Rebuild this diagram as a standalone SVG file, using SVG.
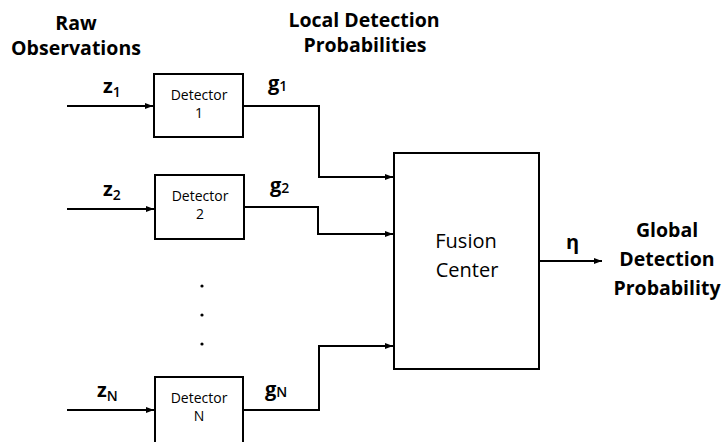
<svg xmlns="http://www.w3.org/2000/svg" width="723" height="442" viewBox="0 0 723 442">
<style>
.box{fill:#fff;stroke:#000;stroke-width:2}
.wire{fill:none;stroke:#000;stroke-width:2}
.hd{font-family:"Open Sans","Liberation Sans",sans-serif;font-weight:bold;font-size:19.5px;fill:#000;text-anchor:middle}
.det{font-family:"Open Sans","Liberation Sans",sans-serif;font-size:14px;fill:#000;text-anchor:middle}
.fc{font-family:"Open Sans","Liberation Sans",sans-serif;font-size:20px;fill:#000;text-anchor:middle}
.var{font-family:"Open Sans","Liberation Sans",sans-serif;font-weight:bold;font-size:20px;fill:#000}
.sub{font-size:14px;font-weight:600}
</style>
<defs>
<marker id="arr" viewBox="0 0 8 6" refX="8" refY="3" markerWidth="8" markerHeight="6" markerUnits="userSpaceOnUse" orient="auto">
<path d="M0,0 L8,3 L0,6 Z" fill="#000"/>
</marker>
</defs>
<g id="labels">
<text class="hd" x="76" y="30">Raw<tspan x="76" dy="25">Observations</tspan></text>
<text class="hd" x="364" y="27">Local Detection<tspan x="365" dy="25">Probabilities</tspan></text>
<text class="var" x="103" y="93">z<tspan class="sub" dy="4">1</tspan></text>
<text class="var" x="103" y="196">z<tspan class="sub" dy="4">2</tspan></text>
<text class="var" x="97" y="397">z<tspan class="sub" dy="4">N</tspan></text>
<text class="var" x="268" y="90">g<tspan class="sub" dy="1">1</tspan></text>
<text class="var" x="270" y="192">g<tspan class="sub" dy="1">2</tspan></text>
<text class="var" x="265" y="396">g<tspan class="sub" dy="1">N</tspan></text>
<text class="var" x="566" y="249">η</text>
<text class="hd" x="667" y="237">Global<tspan x="667" dy="29">Detection</tspan><tspan x="667" dy="29">Probability</tspan></text>
</g>
<g id="detector1">
<rect class="box" x="154" y="74" width="89" height="63"/>
<text class="det" x="199" y="100">Detector<tspan x="199" dy="18">1</tspan></text>
</g>
<g id="detector2">
<rect class="box" x="155" y="175" width="89" height="64"/>
<text class="det" x="200" y="201">Detector<tspan x="200" dy="18">2</tspan></text>
</g>
<g id="detectorN">
<rect class="box" x="155" y="377" width="88" height="70"/>
<text class="det" x="199" y="403">Detector<tspan x="199" dy="18">N</tspan></text>
</g>
<g id="fusion">
<rect class="box" x="394" y="153" width="145" height="216"/>
<text class="fc" x="466" y="248">Fusion<tspan x="467" dy="29">Center</tspan></text>
</g>
<g id="dots" fill="#000">
<circle cx="202" cy="286" r="1.6"/>
<circle cx="202" cy="315" r="1.6"/>
<circle cx="202" cy="344" r="1.6"/>
</g>
<g id="connectors">
<path class="wire" d="M67,106 H153" marker-end="url(#arr)"/>
<path class="wire" d="M67,209 H154" marker-end="url(#arr)"/>
<path class="wire" d="M67,410 H154" marker-end="url(#arr)"/>
<path class="wire" d="M243,106 H319 V177 H393" marker-end="url(#arr)"/>
<path class="wire" d="M244,207 H318 V234 H393" marker-end="url(#arr)"/>
<path class="wire" d="M243,410 H319 V346 H393" marker-end="url(#arr)"/>
<path class="wire" d="M539,261 H602" marker-end="url(#arr)"/>
</g>
</svg>
